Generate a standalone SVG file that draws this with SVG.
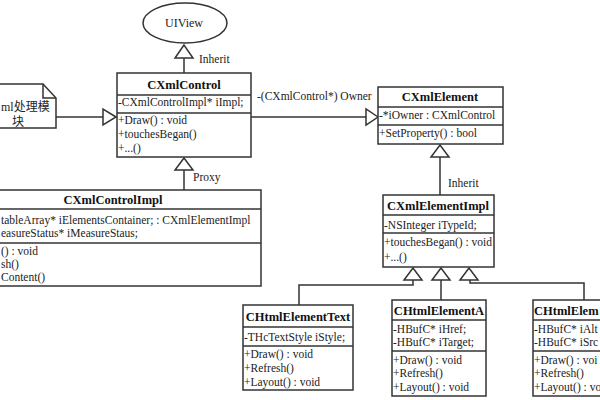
<svg xmlns="http://www.w3.org/2000/svg" width="600" height="400" viewBox="0 0 600 400">
<defs>
<style>
.box{fill:#fff;stroke:#333;stroke-width:1.5}
.div{stroke:#333;stroke-width:1.5}
.line{fill:none;stroke:#333;stroke-width:1.5}
.tri{fill:#fff;stroke:#333;stroke-width:1.5}
text{font-family:'Liberation Serif','DejaVu Serif','Times New Roman',Times,serif}
.t{font-size:11.5px;fill:#222}
.h{font-size:12.5px;font-weight:bold;fill:#111;text-anchor:middle}
.hl{font-size:12.5px;font-weight:bold;fill:#111}
.c{font-family:'Liberation Serif','Noto Sans CJK SC',serif;font-size:12px;fill:#222}
</style>
</defs>
<rect width="600" height="400" fill="#fff"/>
<g id="connectors">
<line class="line" x1="184" y1="58" x2="184" y2="73"/>
<polygon class="tri" points="184,45 175,58 193,58"/>
<text class="t" x="199" y="63">Inherit</text>
<line class="line" x1="184" y1="170" x2="184" y2="190"/>
<polygon class="tri" points="184,158 175,170 193,170"/>
<text class="t" x="193" y="181">Proxy</text>
<line class="line" x1="56" y1="117" x2="103" y2="117"/>
<polygon class="tri" points="116,117 103,109 103,125"/>
<line class="line" x1="251" y1="117" x2="366" y2="117"/>
<polygon class="tri" points="378,117 366,109 366,125"/>
<text class="t" x="257" y="100">-(CXmlControl*) Owner</text>
<line class="line" x1="440" y1="157" x2="440" y2="195"/>
<polygon class="tri" points="440,145 431,157 449,157"/>
<text class="t" x="448" y="187">Inherit</text>
<path class="line" d="M413,280 V285 H299 V305"/>
<line class="line" x1="441" y1="280" x2="441" y2="300"/>
<path class="line" d="M470,280 V283 H584 V300"/>
<polygon class="tri" points="413,268 404,280 422,280"/>
<polygon class="tri" points="441,268 432,280 450,280"/>
<polygon class="tri" points="469,268 460,280 478,280"/>
</g>
<g id="uiview">
<ellipse class="box" cx="185" cy="23" rx="42" ry="20"/>
<text class="t" x="184" y="27" text-anchor="middle" style="font-size:12px">UIView</text>
</g>
<g id="note">
<path class="box" d="M-20,84 H43 L56,98 V128 H-20 Z"/>
<path class="line" d="M43,84 V98 H56"/>
<text class="c" x="1" y="111">ml处理模</text>
<text class="c" x="18" y="126" text-anchor="middle">块</text>
</g>
<g id="cxmlcontrol">
<rect class="box" x="117" y="73" width="134" height="84"/>
<line class="div" x1="117" y1="95" x2="251" y2="95"/>
<line class="div" x1="117" y1="113" x2="251" y2="113"/>
<text class="h" x="184" y="89">CXmlControl</text>
<text class="t" x="118" y="106">-CXmlControlImpl* iImpl;</text>
<text class="t" x="118" y="124">+Draw() : void</text>
<text class="t" x="118" y="138">+touchesBegan()</text>
<text class="t" x="118" y="152">+...()</text>
</g>
<g id="cxmlcontrolimpl">
<rect class="box" x="-35" y="190" width="296" height="96"/>
<line class="div" x1="-35" y1="209" x2="261" y2="209"/>
<line class="div" x1="-35" y1="243" x2="261" y2="243"/>
<text class="h" x="113" y="204">CXmlControlImpl</text>
<text class="t" x="1" y="224">tableArray* iElementsContainer; : CXmlElementImpl</text>
<text class="t" x="1" y="237">easureStatus* iMeasureStaus;</text>
<text class="t" x="1" y="255">() : void</text>
<text class="t" x="1" y="268">sh()</text>
<text class="t" x="1" y="281">Content()</text>
</g>
<g id="cxmlelement">
<rect class="box" x="378" y="87" width="125" height="57"/>
<line class="div" x1="378" y1="107" x2="503" y2="107"/>
<line class="div" x1="378" y1="125" x2="503" y2="125"/>
<text class="h" x="440" y="101">CXmlElement</text>
<text class="t" x="379" y="119">-*iOwner : CXmlControl</text>
<text class="t" x="379" y="137">+SetProperty() : bool</text>
</g>
<g id="cxmlelementimpl">
<rect class="box" x="383" y="195" width="111" height="72"/>
<line class="div" x1="383" y1="215" x2="494" y2="215"/>
<line class="div" x1="383" y1="233" x2="494" y2="233"/>
<text class="h" x="438" y="210">CXmlElementImpl</text>
<text class="t" x="384" y="229">-NSInteger iTypeId;</text>
<text class="t" x="384" y="246">+touchesBegan() : void</text>
<text class="t" x="384" y="261">+...()</text>
</g>
<g id="chtmlelementtext">
<rect class="box" x="243" y="305" width="110" height="85"/>
<line class="div" x1="243" y1="327" x2="353" y2="327"/>
<line class="div" x1="243" y1="346" x2="353" y2="346"/>
<text class="h" x="298" y="321">CHtmlElementText</text>
<text class="t" x="244" y="341">-THcTextStyle iStyle;</text>
<text class="t" x="244" y="358">+Draw() : void</text>
<text class="t" x="244" y="372">+Refresh()</text>
<text class="t" x="244" y="386">+Layout() : void</text>
</g>
<g id="chtmlelementa">
<rect class="box" x="392" y="300" width="94" height="96"/>
<line class="div" x1="392" y1="320" x2="486" y2="320"/>
<line class="div" x1="392" y1="351" x2="486" y2="351"/>
<text class="h" x="439" y="315">CHtmlElementA</text>
<text class="t" x="393" y="333">-HBufC* iHref;</text>
<text class="t" x="393" y="346">-HBufC* iTarget;</text>
<text class="t" x="393" y="364">+Draw() : void</text>
<text class="t" x="393" y="377">+Refresh()</text>
<text class="t" x="393" y="391">+Layout() : void</text>
</g>
<g id="chtmlelementimg">
<rect class="box" x="533" y="300" width="100" height="96"/>
<line class="div" x1="533" y1="320" x2="633" y2="320"/>
<line class="div" x1="533" y1="351" x2="633" y2="351"/>
<text class="hl" x="534" y="315">CHtmlElem</text>
<text class="t" x="534" y="333">-HBufC* iAlt</text>
<text class="t" x="534" y="346">-HBufC* iSrc</text>
<text class="t" x="534" y="364">+Draw() : voi</text>
<text class="t" x="534" y="377">+Refresh()</text>
<text class="t" x="534" y="391">+Layout() : vo</text>
</g>
</svg>
